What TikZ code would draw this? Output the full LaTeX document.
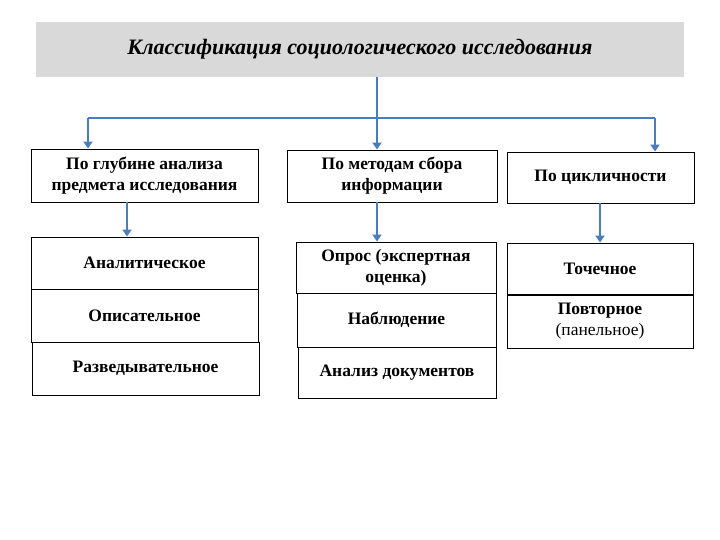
\documentclass[tikz,border=0pt]{standalone}
\usepackage{fontspec}
\setmainfont{Liberation Serif}
\usetikzlibrary{arrows.meta}
\definecolor{arrowblue}{HTML}{4A7EBB}
\definecolor{titlegray}{HTML}{D9D9D9}
\begin{document}
\begin{tikzpicture}[x=1pt,y=-1pt,
  box/.style={draw=black, line width=0.9pt, fill=white, align=center, inner sep=0pt,
    font=\fontsize{17.5}{21}\selectfont\bfseries},
  conn/.style={draw=arrowblue, line width=2pt},
  arr/.style={conn, -{Triangle[width=9pt,length=7pt]}}]
\useasboundingbox (0,0) rectangle (720,540);
\node[fill=titlegray, minimum width=648, minimum height=55, inner sep=0pt,
  font=\fontsize{22}{24}\selectfont\bfseries\itshape] (T) at (360,49.5)
  {Классификация социологического исследования};
\node[box, minimum width=227, minimum height=53] (A) at (144.5,175.5) {По глубине анализа\\предмета исследования};
\node[box, minimum width=210, minimum height=52] (B) at (392,176) {По методам сбора\\информации};
\node[box, minimum width=187, minimum height=51] (C) at (600.5,177.5) {По цикличности};
\node[box, minimum width=227, minimum height=52] (A1) at (144.5,263) {Аналитическое};
\node[box, minimum width=227, minimum height=53] (A2) at (144.5,315.5) {Описательное};
\node[box, minimum width=227, minimum height=53] (A3) at (145.5,368.5) {Разведывательное};
\node[box, minimum width=200, minimum height=51] (B1) at (396,267.5) {Опрос (экспертная\\оценка)};
\node[box, minimum width=199, minimum height=54] (B2) at (396.5,320) {Наблюдение};
\node[box, minimum width=198, minimum height=51] (B3) at (397,372.5) {Анализ документов};
\node[box, minimum width=186, minimum height=53] (C2) at (600,321.5) {Повторное\\{\mdseries(панельное)}};
\node[box, minimum width=186, minimum height=52] (C1) at (600,269) {Точечное};
\draw[black, line width=2pt] (C1.south west) -- (C1.south east);
\coordinate (J) at (377,118);
\coordinate (JL) at (88,118);
\coordinate (JR) at (655,118);
\draw[conn] (T.south -| J) -- (J);
\draw[conn] (JL) -- (JR);
\draw[arr] (JL) -- (A.north -| JL);
\draw[arr] (J) -- (B.north -| J);
\draw[arr] (JR) -- (C.north -| JR);
\coordinate (a) at (127,0);
\coordinate (b) at (377,0);
\coordinate (c) at (600,0);
\draw[arr] (A.south -| a) -- (A1.north -| a);
\draw[arr] (B.south -| b) -- (B1.north -| b);
\draw[arr] (C.south -| c) -- (C1.north -| c);
\end{tikzpicture}
\end{document}
